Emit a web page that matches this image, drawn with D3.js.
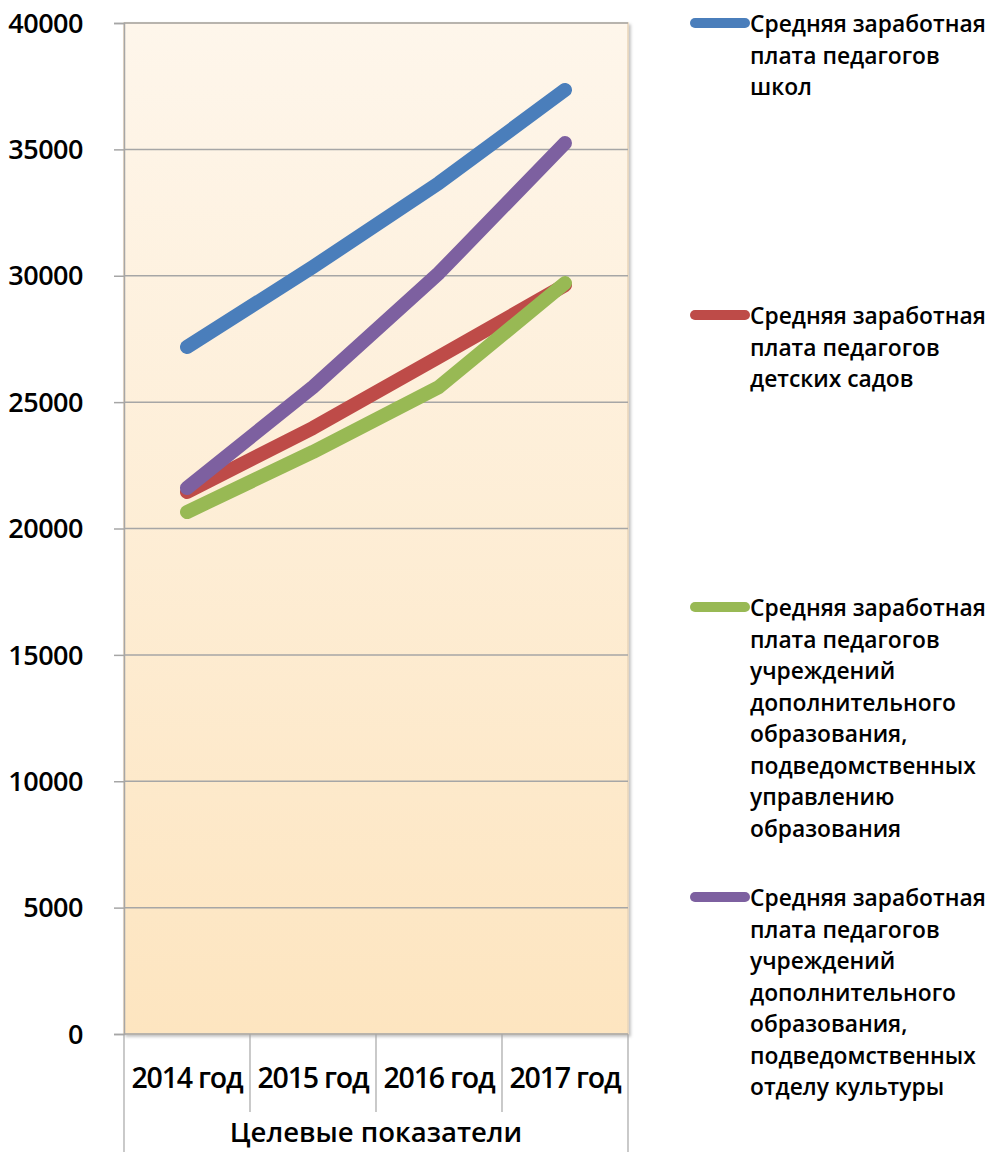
<!DOCTYPE html>
<html><head><meta charset="utf-8">
<script src="https://cdn.jsdelivr.net/npm/d3@7"></script>
<style>body{margin:0;background:#fff}svg{display:block}text{font-family:"Open Sans","Noto Sans",sans-serif}</style>
</head><body><svg id="c" width="988" height="1152"></svg>
<script>
const categories = ["2014 год","2015 год","2016 год","2017 год"];
const seriesNames = [
  "Средняя заработная плата педагогов школ",
  "Средняя заработная плата педагогов детских садов",
  "Средняя заработная плата педагогов учреждений дополнительного образования, подведомственных управлению образования",
  "Средняя заработная плата педагогов учреждений дополнительного образования, подведомственных отделу культуры"
];
const legendLines = [
  ["Средняя заработная","плата педагогов","школ"],
  ["Средняя заработная","плата педагогов","детских садов"],
  ["Средняя заработная","плата педагогов","учреждений","дополнительного","образования,","подведомственных","управлению","образования"],
  ["Средняя заработная","плата педагогов","учреждений","дополнительного","образования,","подведомственных","отделу культуры"]
];
const schools = [27180, 30350, 33670, 37350];
const kindergartens = [21440, 23980, 26790, 29630];
const addEdu = [20650, 23030, 25600, 29710];
const addCulture = [21600, 25600, 30110, 35250];
const colors = ["#4a7ebb","#be4b48","#98b954","#7d60a0"];
const yTicks = [0,5000,10000,15000,20000,25000,30000,35000,40000];
const axisTitle = "Целевые показатели";

const series = [schools, kindergartens, addEdu, addCulture];
const svg = d3.select("#c");
const L=124, R=628, T=23, B=1034;
const x = d3.scaleBand().domain(categories).range([L,R]);
const y = d3.scaleLinear().domain([0,40000]).range([B,T]);

const defs = svg.append("defs");
const g = defs.append("linearGradient").attr("id","bg").attr("x1",0).attr("y1",0).attr("x2",0).attr("y2",1);
g.append("stop").attr("offset","0%").attr("stop-color","#fef6eb");
g.append("stop").attr("offset","100%").attr("stop-color","#fde5c0");
const sh = defs.append("filter").attr("id","sh").attr("x","-5%").attr("y","-5%").attr("width","115%").attr("height","115%");
sh.append("feDropShadow").attr("dx",2).attr("dy",2).attr("stdDeviation",1.5).attr("flood-color","#000").attr("flood-opacity",0.25);

svg.append("rect").attr("x",L).attr("y",T).attr("width",R-L).attr("height",B-T)
  .attr("fill","url(#bg)").attr("stroke","#e8d4b8").attr("stroke-width",1.5).attr("filter","url(#sh)");

// gridlines
svg.append("g").selectAll("line").data(yTicks.filter(d=>d>0)).join("line")
  .attr("x1",L).attr("x2",R).attr("y1",d=>y(d)).attr("y2",d=>y(d))
  .attr("stroke","#a6a6a6").attr("stroke-width",1.5);

// y axis
const ya = svg.append("g").attr("transform",`translate(${L},0)`)
  .call(d3.axisLeft(y).tickValues(yTicks).tickSize(10).tickPadding(31).tickFormat(d3.format("d")));
ya.select(".domain").attr("stroke","#a6a6a6").attr("stroke-width",1.5);
ya.selectAll(".tick line").attr("stroke","#a6a6a6").attr("stroke-width",1.5);
ya.selectAll("text").attr("font-size",27).attr("font-weight",600).attr("fill","#000")
  .attr("font-family","'Open Sans',sans-serif").attr("letter-spacing","-0.5").attr("dy","0.34em");

// x axis category table
svg.append("line").attr("x1",L).attr("x2",R).attr("y1",B).attr("y2",B).attr("stroke","#a6a6a6").attr("stroke-width",1.5);
const bounds = categories.map(c=>x(c)).concat([R]);
svg.append("g").selectAll("line").data(bounds).join("line")
  .attr("x1",d=>d).attr("x2",d=>d).attr("y1",B)
  .attr("y2",(d,i)=> (i===0||i===bounds.length-1)?1152:1112)
  .attr("stroke","#a6a6a6").attr("stroke-width",1.2);
svg.append("g").selectAll("text").data(categories).join("text")
  .attr("x",d=>x(d)+x.bandwidth()/2).attr("y",1088).attr("text-anchor","middle")
  .attr("font-size",28.5).attr("font-weight",600).attr("letter-spacing","-1.2").text(d=>d);
svg.append("text").attr("x",(L+R)/2).attr("y",1142).attr("text-anchor","middle")
  .attr("font-size",27.5).attr("font-weight",600).text(axisTitle);

// lines
const line = d3.line().x((d,i)=>x(categories[i])+x.bandwidth()/2).y(d=>y(d));
svg.append("g").selectAll("path").data(series).join("path")
  .attr("d",line).attr("fill","none").attr("stroke",(d,i)=>colors[i])
  .attr("stroke-width",14).attr("stroke-linecap","round").attr("stroke-linejoin","round");

// legend
const legTop = [23, 315, 607, 897];
const lg = svg.append("g").selectAll("g").data(seriesNames).join("g")
  .attr("transform",(d,i)=>`translate(0,${legTop[i]})`);
lg.append("line").attr("x1",695).attr("x2",745).attr("y1",0).attr("y2",0)
  .attr("stroke",(d,i)=>colors[i]).attr("stroke-width",10).attr("stroke-linecap","round");
lg.each(function(d,i){
  const t = d3.select(this).append("text").attr("x",750).attr("y",9).attr("font-size",22.8).attr("font-weight",600).attr("fill","#000");
  legendLines[i].forEach((s,k)=>t.append("tspan").attr("x",750).attr("dy",k===0?0:31.5).text(s));
});
</script></body></html>
